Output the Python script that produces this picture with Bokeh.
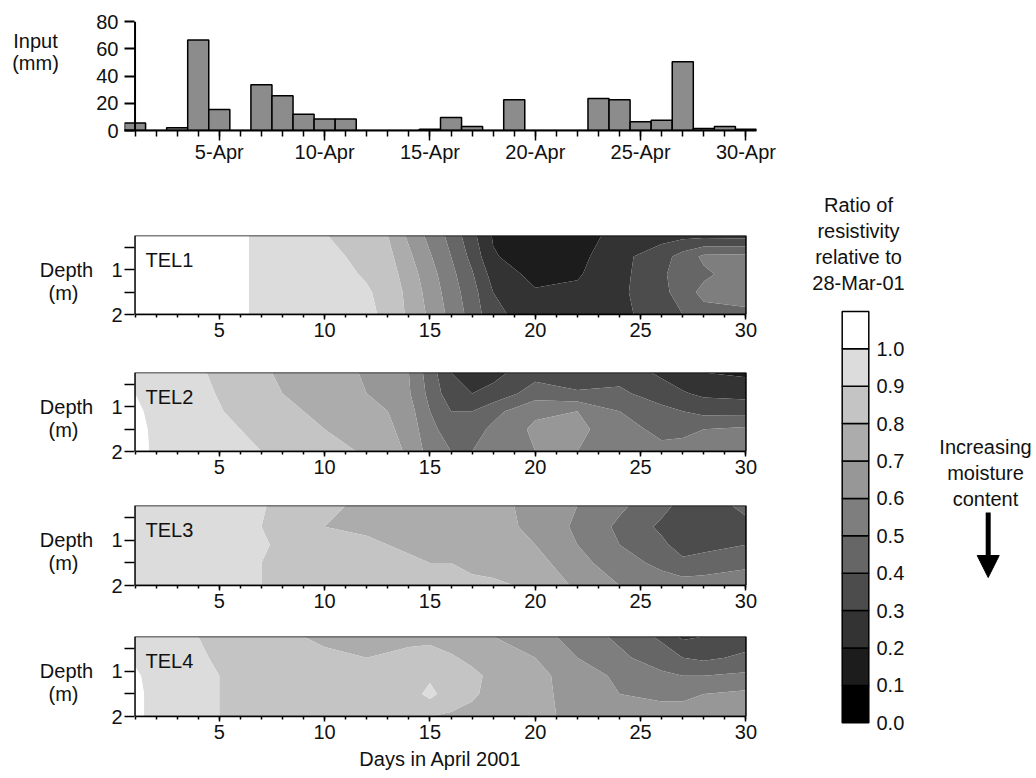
import numpy as np
from bokeh.plotting import figure
from bokeh.layouts import row, column
from bokeh.models import Range1d, FixedTicker, Label, Arrow, NormalHead, Span, BoxAnnotation
from bokeh.core.properties import value
from bokeh.embed import file_html
from bokeh.resources import INLINE

# ---------------- data ----------------
days = list(range(1, 31))
rain_mm = [5.5, 0, 2, 66.5, 15.5, 0, 33.5, 25.5, 12, 8.5, 8.5, 0, 0, 0, 1,
           9.5, 3, 0, 22.5, 0, 0, 0, 23.5, 22.5, 6.5, 7.5, 50.5, 1.5, 3, 1]
rain_ticks = [0, 20, 40, 60, 80]
date_ticks = [5, 10, 15, 20, 25, 30]
date_labels = ["5-Apr", "10-Apr", "15-Apr", "20-Apr", "25-Apr", "30-Apr"]

grid_days = [1, 2, 4, 6, 7, 8, 10, 12, 13, 14, 15, 16, 17, 18, 20, 22, 24, 26, 27, 28, 30]
grid_depths = [0.23, 0.7, 1.1, 1.5, 2.0]
depth_ticks = [0.5, 1, 1.5, 2]

tel1 = [
    [1.1, 1.1, 1.1, 1.02, 0.97, 0.96, 0.905, 0.84, 0.80, 0.68, 0.57, 0.47, 0.33, 0.19, 0.15, 0.16, 0.23, 0.26, 0.27, 0.27, 0.26],
    [1.1, 1.1, 1.1, 1.02, 0.97, 0.96, 0.93, 0.87, 0.83, 0.72, 0.61, 0.50, 0.37, 0.21, 0.14, 0.17, 0.27, 0.36, 0.44, 0.52, 0.53],
    [1.1, 1.1, 1.1, 1.02, 0.97, 0.96, 0.94, 0.89, 0.85, 0.75, 0.64, 0.53, 0.41, 0.26, 0.17, 0.19, 0.27, 0.38, 0.46, 0.48, 0.56],
    [1.1, 1.1, 1.1, 1.02, 0.97, 0.96, 0.95, 0.91, 0.87, 0.77, 0.66, 0.55, 0.44, 0.30, 0.21, 0.22, 0.28, 0.37, 0.45, 0.53, 0.56],
    [1.1, 1.1, 1.1, 1.02, 0.97, 0.97, 0.95, 0.92, 0.88, 0.78, 0.68, 0.57, 0.46, 0.33, 0.24, 0.25, 0.28, 0.34, 0.40, 0.46, 0.47],
]
tel2 = [
    [0.99, 0.96, 0.91, 0.86, 0.82, 0.78, 0.74, 0.69, 0.66, 0.60, 0.45, 0.30, 0.27, 0.27, 0.36, 0.30, 0.36, 0.28, 0.24, 0.20, 0.18],
    [1.00, 0.96, 0.92, 0.87, 0.84, 0.80, 0.75, 0.70, 0.67, 0.61, 0.47, 0.34, 0.30, 0.33, 0.45, 0.42, 0.42, 0.35, 0.31, 0.28, 0.27],
    [1.02, 0.97, 0.93, 0.88, 0.86, 0.83, 0.77, 0.72, 0.70, 0.64, 0.50, 0.40, 0.40, 0.47, 0.58, 0.60, 0.50, 0.43, 0.40, 0.37, 0.36],
    [1.03, 0.98, 0.94, 0.90, 0.88, 0.86, 0.80, 0.76, 0.72, 0.66, 0.53, 0.45, 0.46, 0.52, 0.62, 0.63, 0.53, 0.48, 0.48, 0.50, 0.52],
    [1.04, 0.98, 0.95, 0.91, 0.90, 0.88, 0.83, 0.79, 0.75, 0.68, 0.56, 0.50, 0.50, 0.54, 0.60, 0.60, 0.54, 0.52, 0.53, 0.56, 0.60],
]
tel3 = [
    [0.95, 0.95, 0.95, 0.93, 0.91, 0.87, 0.82, 0.78, 0.77, 0.76, 0.75, 0.74, 0.73, 0.72, 0.68, 0.60, 0.52, 0.43, 0.37, 0.36, 0.42],
    [0.96, 0.95, 0.95, 0.93, 0.90, 0.86, 0.80, 0.79, 0.78, 0.77, 0.76, 0.75, 0.74, 0.73, 0.68, 0.58, 0.48, 0.38, 0.35, 0.35, 0.38],
    [0.97, 0.96, 0.95, 0.94, 0.92, 0.87, 0.84, 0.81, 0.80, 0.79, 0.78, 0.77, 0.76, 0.75, 0.70, 0.60, 0.50, 0.42, 0.36, 0.37, 0.40],
    [0.97, 0.96, 0.95, 0.93, 0.90, 0.88, 0.85, 0.83, 0.82, 0.81, 0.80, 0.80, 0.79, 0.78, 0.74, 0.63, 0.55, 0.47, 0.42, 0.44, 0.48],
    [0.97, 0.96, 0.95, 0.93, 0.90, 0.88, 0.86, 0.84, 0.83, 0.83, 0.82, 0.82, 0.81, 0.81, 0.79, 0.68, 0.60, 0.56, 0.55, 0.55, 0.55],
]
tel4 = [
    [0.97, 0.93, 0.90, 0.86, 0.84, 0.82, 0.78, 0.76, 0.77, 0.78, 0.78, 0.76, 0.73, 0.70, 0.65, 0.55, 0.48, 0.38, 0.28, 0.30, 0.35],
    [0.98, 0.94, 0.91, 0.87, 0.86, 0.84, 0.82, 0.80, 0.81, 0.82, 0.83, 0.81, 0.78, 0.74, 0.70, 0.60, 0.52, 0.45, 0.40, 0.38, 0.42],
    [1.02, 0.95, 0.92, 0.88, 0.87, 0.86, 0.84, 0.82, 0.83, 0.86, 0.88, 0.85, 0.82, 0.78, 0.73, 0.65, 0.58, 0.52, 0.50, 0.50, 0.52],
    [1.03, 0.96, 0.92, 0.88, 0.87, 0.86, 0.84, 0.82, 0.82, 0.85, 0.93, 0.84, 0.81, 0.78, 0.73, 0.66, 0.60, 0.58, 0.58, 0.60, 0.62],
    [1.03, 0.96, 0.92, 0.88, 0.87, 0.86, 0.84, 0.82, 0.81, 0.81, 0.80, 0.79, 0.78, 0.76, 0.72, 0.68, 0.65, 0.64, 0.64, 0.65, 0.66],
]
panel_names = ["TEL1", "TEL2", "TEL3", "TEL4"]

ratio_levels = [0.0, 0.1, 0.2, 0.3, 0.4, 0.5, 0.6, 0.7, 0.8, 0.9, 1.0, 1.1]
band_colors = ["#000000", "#1c1c1c", "#333333", "#4c4c4c", "#666666", "#7e7e7e",
               "#979797", "#acacac", "#c4c4c4", "#dcdcdc", "#ffffff"]

FONT = "Liberation Sans"
FS = "20px"
TXT = "#111111"
STRIP_W = 93
COL_W = 687
BORDER_L = 30
BORDER_R = 24
X_LO, X_HI = 0.5, 30.5


def style_axis(ax):
    ax.major_label_text_font = FONT
    ax.major_label_text_font_size = FS
    ax.major_label_text_color = TXT
    ax.axis_line_color = "black"
    ax.major_tick_line_color = "black"
    ax.minor_tick_line_color = "black"


def add_px_label(fig, txt, x, y):
    fig.add_layout(Label(x=x, y=y, y_range_name="px", text=txt, text_align="center",
                         text_baseline="middle", text_font=FONT, text_font_size=FS, text_color=TXT))


# ---------------- rainfall bars ----------------
BAR_H = 218
bar = figure(width=COL_W, height=BAR_H, x_range=Range1d(X_LO, X_HI), y_range=Range1d(0, 80),
             output_backend="svg", toolbar_location=None,
             min_border_top=21, min_border_bottom=88, min_border_left=BORDER_L, min_border_right=BORDER_R)
bar.vbar(x=days, top=rain_mm, width=1, fill_color="#8c8c8c", line_color="black", line_width=1.5)
bar.add_layout(Span(location=1, dimension="height", line_color="black", line_width=2))
bar.outline_line_color = None
bar.grid.visible = False
bar.yaxis.ticker = FixedTicker(ticks=rain_ticks, minor_ticks=[])
bar.yaxis.major_tick_out = 0
bar.yaxis.major_tick_in = 10
bar.yaxis.major_label_standoff = 6
bar.xaxis.ticker = FixedTicker(ticks=date_ticks, minor_ticks=days)
bar.xaxis.major_label_overrides = {t: l for t, l in zip(date_ticks, date_labels)}
bar.xaxis.major_tick_out = 10
bar.xaxis.major_tick_in = 0
bar.xaxis.minor_tick_out = 6
bar.xaxis.minor_tick_in = 0
bar.xaxis.major_label_standoff = 0
style_axis(bar.xaxis[0])
style_axis(bar.yaxis[0])
bar.yaxis.axis_line_color = None
bar.yaxis.major_tick_line_width = 2
bar.xaxis.axis_line_width = 2
bar.xaxis.major_tick_line_width = 1.5
bar.xaxis.minor_tick_line_width = 1.5

# ---------------- contour panels ----------------
panel_borders = [(17, 79, 53), (5, 79, 37), (17, 80, 36), (15, 80, 62)]
figs = [bar]
depth_label_y = []
y_cursor = BAR_H
for i, (name, z, (bt, fh, bb)) in enumerate(zip(panel_names, [tel1, tel2, tel3, tel4], panel_borders)):
    h = bt + fh + bb
    p = figure(width=COL_W, height=h, x_range=Range1d(X_LO, X_HI), y_range=Range1d(2.0, 0.23),
               output_backend="svg", toolbar_location=None,
               min_border_top=bt, min_border_bottom=bb, min_border_left=BORDER_L, min_border_right=BORDER_R)
    p.contour(x=grid_days, y=grid_depths, z=np.array(z), levels=ratio_levels, fill_color=band_colors)
    p.add_layout(BoxAnnotation(left=1, right=30, top=0.23, bottom=2.0, fill_alpha=0,
                               line_color="black", line_width=1.5, line_alpha=1.0))
    p.grid.visible = False
    p.outline_line_color = None
    p.xaxis.bounds = (1, 30)
    p.xaxis.ticker = FixedTicker(ticks=date_ticks, minor_ticks=days)
    p.xaxis.major_tick_out = 5
    p.xaxis.major_tick_in = 0
    p.xaxis.minor_tick_out = 3
    p.xaxis.minor_tick_in = 0
    p.xaxis.major_label_standoff = 3
    p.yaxis.ticker = FixedTicker(ticks=depth_ticks, minor_ticks=[])
    p.yaxis.major_label_overrides = {0.5: "", 1.5: ""}
    p.yaxis.major_tick_out = 0
    p.yaxis.major_tick_in = 10
    p.yaxis.major_label_standoff = 2
    for ax in (p.xaxis[0], p.yaxis[0]):
        style_axis(ax)
        ax.axis_line_width = 1.5
        ax.major_tick_line_width = 1.5
        ax.minor_tick_line_width = 1.5
    p.yaxis.axis_line_color = None
    p.add_layout(Label(x=1.5, y=0.78, text=name, text_align="left", text_baseline="middle",
                       text_font=FONT, text_font_size=FS, text_color=TXT))
    if i == 3:
        p.xaxis.axis_label = "Days in April 2001"
        p.xaxis.axis_label_text_font = FONT
        p.xaxis.axis_label_text_font_size = FS
        p.xaxis.axis_label_text_font_style = "normal"
        p.xaxis.axis_label_text_color = TXT
        p.xaxis.axis_label_standoff = 6
    depth_label_y.append(y_cursor + bt + (1.0 - 0.23) * fh / 1.77)
    y_cursor += h
    figs.append(p)

# ---------------- left strip with free texts ----------------
strip = figure(width=STRIP_W, height=778, x_range=Range1d(0, STRIP_W), y_range=Range1d(0, 1),
               output_backend="svg", toolbar_location=None,
               x_axis_location=None, y_axis_location=None, min_border=0)
strip.extra_y_ranges = {"px": Range1d(778, 0)}
strip.grid.visible = False
strip.outline_line_color = None
add_px_label(strip, "Input", 35, 40)
add_px_label(strip, "(mm)", 35, 62)
for yd in depth_label_y:
    add_px_label(strip, "Depth", 66, yd)
    add_px_label(strip, "(m)", 63, yd + 23)

# ---------------- colour bar and notes ----------------
rt = figure(width=256, height=778, x_range=Range1d(780, 1036),
            y_range=Range1d(-0.1489, 1.9313), output_backend="svg", toolbar_location=None,
            x_axis_location=None, y_axis_location=None, min_border=0)
rt.extra_y_ranges = {"px": Range1d(778, 0)}
rt.grid.visible = False
rt.outline_line_color = None
cb_bottom = ratio_levels[:-1]
cb_top = ratio_levels[1:]
cb_labels = ["%.1f" % v for v in ratio_levels[:-1]]
rt.quad(left=841.7, right=868.3, bottom=cb_bottom, top=cb_top, fill_color=band_colors,
        line_color="black", line_width=1.5)
rt.text(x=876, y=cb_bottom, text=cb_labels, text_align="left", text_baseline="middle",
        text_font=value(FONT), text_font_size=value(FS), text_color=TXT)
for txt, yy in [("Ratio of", 204), ("resistivity", 230), ("relative to", 256), ("28-Mar-01", 282)]:
    add_px_label(rt, txt, 858, yy)
for txt, yy in [("Increasing", 446), ("moisture", 472), ("content", 498)]:
    add_px_label(rt, txt, 985, yy)
rt.add_layout(Arrow(x_start=987.7, y_start=512, x_end=987.7, y_end=577, y_range_name="px",
                    line_width=5, line_color="black",
                    end=NormalHead(size=22, fill_color="black", line_color="black")))

page = row(strip, column(*figs), rt)
open("out.html", "w").write(file_html(page, INLINE))
